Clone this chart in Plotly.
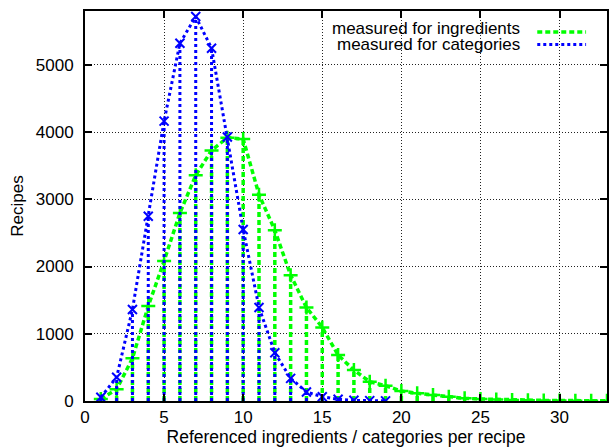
import plotly.graph_objects as go

# ---- data ----
cat_x = list(range(1, 20))
cat_y = [55, 352, 1362, 2747, 4162, 5321, 5717, 5247, 3925, 2550, 1391, 717,
         337, 134, 64, 25, 10, 5, 2]

ing_x = list(range(1, 34))
ing_y = [30, 174, 634, 1411, 2083, 2796, 3356, 3727, 3916, 3895, 3069, 2539,
         1871, 1391, 1094, 683, 460, 287, 228, 148, 114, 89, 64, 40, 30, 22,
         16, 12, 9, 7, 5, 4, 3]

x_ticks = [0, 5, 10, 15, 20, 25, 30]
y_ticks = [0, 1000, 2000, 3000, 4000, 5000]

legend_labels = ["measured for ingredients", "measured for categories"]

GREEN = "#00ff00"
BLUE = "#0000ff"
FONT = "Liberation Sans, Arial, Helvetica, sans-serif"

W, H = 610, 447
L, R, T, B = 85, 1, 11, 46


def impulses(xs, ys):
    X, Y = [], []
    for x, y in zip(xs, ys):
        X += [x, x, None]
        Y += [0, y, None]
    return X, Y


fig = go.Figure()

gx, gy = impulses(ing_x, ing_y)
fig.add_trace(go.Scatter(x=gx, y=gy, mode="lines",
                         line=dict(color=GREEN, width=3.5, dash="5px,3px"),
                         showlegend=False, hoverinfo="skip"))
fig.add_trace(go.Scatter(x=ing_x, y=ing_y, mode="lines+markers",
                         line=dict(color=GREEN, width=3.5, dash="5px,3px"),
                         marker=dict(symbol="cross-thin", size=10,
                                     line=dict(color=GREEN, width=2.5)),
                         name=legend_labels[0], showlegend=False))

bx, by = impulses(cat_x, cat_y)
fig.add_trace(go.Scatter(x=bx, y=by, mode="lines",
                         line=dict(color=BLUE, width=3, dash="3px,3px"),
                         showlegend=False, hoverinfo="skip"))
fig.add_trace(go.Scatter(x=cat_x, y=cat_y, mode="lines+markers",
                         line=dict(color=BLUE, width=3, dash="3px,3px"),
                         marker=dict(symbol="x-thin", size=9,
                                     line=dict(color=BLUE, width=2)),
                         name=legend_labels[1], showlegend=False))

pw = W - L - R
ph = H - T - B


def px_x(p):
    return (p - L) / pw


def px_y(p):
    return (H - B - p) / ph


shapes = [
    dict(type="rect", xref="paper", yref="paper", layer="between",
         x0=px_x(318), x1=1, y0=px_y(53), y1=1,
         fillcolor="white", line=dict(width=0)),
    dict(type="line", xref="paper", yref="paper",
         x0=px_x(539), x1=px_x(588), y0=px_y(32), y1=px_y(32),
         line=dict(color=GREEN, width=3.5, dash="5px,3px")),
    dict(type="line", xref="paper", yref="paper",
         x0=px_x(539), x1=px_x(588), y0=px_y(44.5), y1=px_y(44.5),
         line=dict(color=BLUE, width=3, dash="3px,3px")),
]

annotations = [
    dict(text=legend_labels[0], xref="paper", yref="paper",
         x=px_x(524), y=px_y(29), xanchor="right", yanchor="middle",
         showarrow=False, font=dict(family=FONT, size=17, color="black")),
    dict(text=legend_labels[1], xref="paper", yref="paper",
         x=px_x(524), y=px_y(44.5), xanchor="right", yanchor="middle",
         showarrow=False, font=dict(family=FONT, size=17, color="black")),
]

axis_common = dict(
    showline=True, linecolor="black", linewidth=2, mirror="ticks",
    ticks="inside", ticklen=7, tickwidth=1.5, tickcolor="black",
    showgrid=True, gridcolor="#222", gridwidth=1, griddash="1px,2px",
    zeroline=False,
    tickfont=dict(family=FONT, size=17, color="black"),
)

fig.update_layout(
    width=W, height=H,
    margin=dict(l=L, r=R, t=T, b=B),
    paper_bgcolor="white", plot_bgcolor="white",
    showlegend=False,
    shapes=shapes,
    annotations=annotations,
    xaxis=dict(range=[0, 33], tickvals=x_ticks, **axis_common,
               title=dict(text="Referenced ingredients / categories per recipe",
                          font=dict(family=FONT, size=17.5, color="black"),
                          standoff=2)),
    yaxis=dict(range=[0, 5800], tickvals=y_ticks, **axis_common,
               ticklabelstandoff=6,
               title=dict(text="Recipes",
                          font=dict(family=FONT, size=17, color="black"),
                          standoff=8)),
)

fig.write_html("out.html")
